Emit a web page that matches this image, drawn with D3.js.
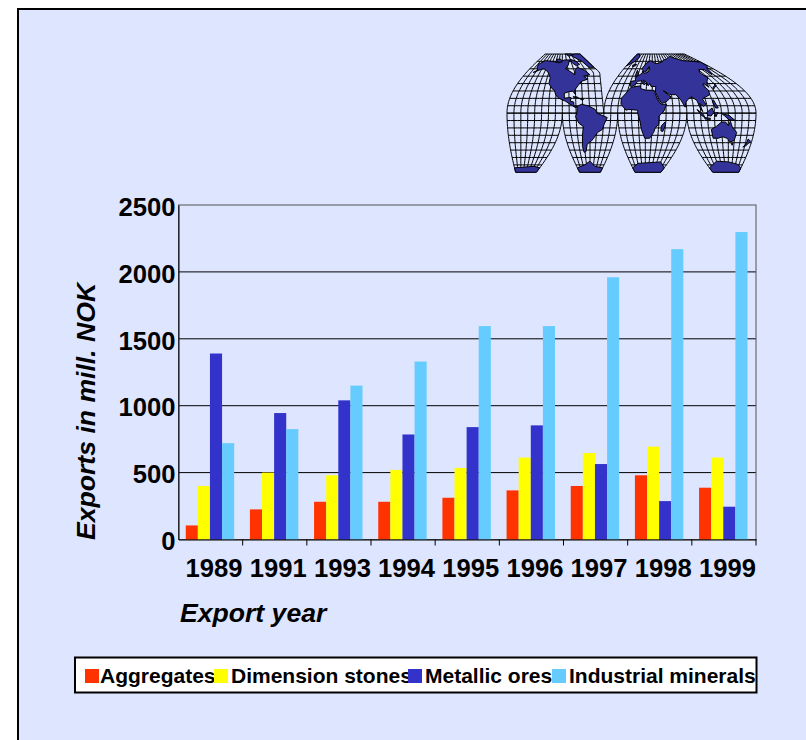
<!DOCTYPE html>
<html>
<head>
<meta charset="utf-8">
<script src="https://cdn.jsdelivr.net/npm/d3@7"></script>
<style>
  html, body { margin: 0; padding: 0; background: #fff; overflow: hidden; }
  text { font-family: "Liberation Sans", Arial, sans-serif; font-weight: bold; fill: #000; }
</style>
</head>
<body>
<div id="chart"></div>
<script>
// chart values
var years = ["1989", "1991", "1993", "1994", "1995", "1996", "1997", "1998", "1999"];
var seriesNames = ["Aggregates", "Dimension stones", "Metallic ores", "Industrial minerals"];
var seriesColors = ["#FF3300", "#FFFF00", "#3333CC", "#66CCFF"];
var aggregates = [105, 225, 282, 282, 312, 367, 400, 480, 387];
var dimensionStones = [400, 500, 480, 520, 535, 612, 646, 694, 612];
var metallicOres = [1390, 945, 1040, 785, 840, 853, 564, 287, 245];
var industrialMinerals = [720, 825, 1150, 1330, 1595, 1595, 1960, 2170, 2298];
var yTicks = [0, 500, 1000, 1500, 2000, 2500];

// rough coastlines for the little world map, [lon, lat]
var northAmerica = [[-168,66],[-156,71],[-130,70],[-110,68],[-95,72],[-82,72],[-88,65],[-94,60],[-85,55],[-80,52],[-78,58],[-72,62],[-62,58],[-56,52],[-66,50],[-60,46],[-70,43],[-75,38],[-81,31],[-80,25],[-84,30],[-90,29],[-97,27],[-97,20],[-90,21],[-87,21],[-88,16],[-83,15],[-83,10],[-78,9],[-80,7],[-85,10],[-95,16],[-105,20],[-110,24],[-113,31],[-117,33],[-124,40],[-124,48],[-133,56],[-145,60],[-152,59],[-165,55],[-158,58],[-165,62]];
var southAmerica = [[-78,9],[-72,12],[-62,10],[-52,5],[-50,0],[-35,-6],[-39,-15],[-41,-22],[-48,-26],[-54,-34],[-58,-38],[-65,-42],[-68,-52],[-72,-53],[-74,-45],[-72,-30],[-70,-18],[-76,-14],[-81,-5],[-79,0]];
var eurasia = [[-9,37],[-9,43],[-1,44],[-4,48],[2,51],[8,54],[8,57],[12,54],[20,55],[24,59],[22,63],[18,60],[16,56],[12,56],[5,59],[6,62],[14,68],[25,71],[40,67],[44,67],[60,69],[68,72],[80,73],[100,77],[113,74],[130,71],[160,70],[179,69],[178,64],[165,60],[162,56],[156,52],[155,59],[142,59],[135,54],[140,48],[130,42],[127,39],[126,35],[122,40],[118,38],[122,31],[120,25],[110,21],[106,19],[109,12],[105,9],[100,13],[103,2],[99,9],[97,17],[91,22],[87,21],[80,15],[78,8],[73,18],[67,25],[57,25],[51,29],[48,30],[56,24],[59,22],[52,16],[44,13],[39,21],[35,28],[36,36],[28,36],[26,40],[23,37],[19,42],[13,45],[18,40],[16,38],[10,44],[3,43],[0,39],[-5,36]];
var africa = [[-6,35],[10,37],[11,33],[20,31],[32,31],[34,28],[38,18],[43,12],[51,12],[47,3],[40,-4],[40,-15],[35,-20],[33,-26],[27,-34],[19,-34],[14,-22],[12,-10],[9,0],[9,4],[-4,5],[-8,4],[-16,12],[-17,20],[-10,29]];
var australia = [[114,-22],[122,-18],[130,-12],[136,-12],[140,-17],[143,-11],[146,-19],[153,-26],[150,-37],[143,-39],[138,-34],[131,-32],[123,-34],[115,-34]];
var greenlandWest = [[-73,78],[-60,80],[-41,80],[-41,62],[-50,62],[-54,70],[-68,76]];
var greenlandEast = [[-39,80],[-30,80],[-20,76],[-25,70],[-39,64]];
var islands = [
  [[49,-12],[50,-16],[47,-25],[44,-24],[44,-17]],
  [[173,-35],[178,-38],[172,-44],[167,-46],[172,-41]],
  [[109,1],[117,7],[119,1],[115,-4],[110,-3]],
  [[95,5],[104,-2],[106,-6],[101,-3]],
  [[106,-6],[114,-7],[114,-8.5],[106,-8]],
  [[131,-1],[141,-3],[150,-10],[141,-9],[135,-4]],
  [[131,32],[136,35],[141,37],[141,41],[140,38],[133,35]],
  [[120,17],[122,18],[126,7],[122,7],[120,14]],
  [[-5,50],[1,51],[-2,56],[-5,58],[-5,54]],
  [[-24,65],[-14,66],[-15,64],[-22,63]],
  [[-84,22],[-75,20],[-78,22]],
  [[-74,20],[-68,19],[-72,18]],
  [[-80,73],[-68,70],[-64,66],[-72,64],[-78,68]],
  [[-120,73],[-105,73],[-102,69],[-115,69]],
  [[-90,80],[-70,80],[-65,79],[-80,77]],
  [[145,-41],[148,-41],[147,-43.5]],
  [[120,0],[125,1],[122,-5]]
];
var antarcticaCoast = [[-180,-74],[-150,-73],[-120,-72],[-100,-71],[-75,-70],[-60,-65],[-45,-72],[-20,-70],[0,-68],[30,-67],[60,-66],[80,-66],[110,-65],[140,-66],[165,-69],[180,-74]];

var svgWidth = 806;
var svgHeight = 740;
var margin = { top: 205, right: 50, bottom: 200, left: 178.5 };
var width = 756 - margin.left;
var height = 539.5 - margin.top;

var svg = d3.select("#chart")
  .append("svg")
  .attr("width", svgWidth)
  .attr("height", svgHeight)
  .style("display", "block");

// slide background, the frame runs off the right and bottom of the page
svg.append("rect")
  .attr("x", 18)
  .attr("y", 9)
  .attr("width", 830)
  .attr("height", 780)
  .attr("fill", "#DDE5FF")
  .attr("stroke", "#000")
  .attr("stroke-width", 2);

// world map -------------------------------------------------------------
var northLobes = [
  { c: -100, lo: -180, hi: -40 },
  { c: 30, lo: -40, hi: 180 }
];
var southLobes = [
  { c: -160, lo: -180, hi: -100 },
  { c: -60, lo: -100, hi: -20 },
  { c: 20, lo: -20, hi: 80 },
  { c: 140, lo: 80, hi: 180 }
];
var mapX = d3.scaleLinear().domain([-180, 180]).range([507, 756]);
var mapY = d3.scaleLinear().domain([-81, 80]).range([173, 54]);
var toRad = Math.PI / 180;
// the east side of the first lobe keeps its width up to the Greenland tail
var tailWidth = d3.scaleLinear().domain([0, 55, 80]).range([1, 0.9, 0.43]);

// interrupted, sinusoidal looking map cut off before the poles
function goode(lon, lat, lobe) {
  var squeeze = Math.cos(lat * (lat >= 0 ? 0.9 : 0.85) * toRad);
  if (lobe.c === -100 && lon > lobe.c) squeeze = tailWidth(lat);
  return [mapX(lobe.c + (lon - lobe.c) * squeeze), mapY(lat)];
}

function lobeFor(lon, lat) {
  var lobes = lat >= 0 ? northLobes : southLobes;
  return lobes.find(function(l) { return lon >= l.lo && lon <= l.hi; });
}

var mapLine = d3.line();
var mapGroup = svg.append("g").attr("fill", "none").attr("stroke", "#000");

function drawLobe(lobe, latFrom, latTo) {
  // parallels
  d3.range(latFrom, latTo + 1, 10).forEach(function(lat) {
    var pts = d3.range(lobe.lo, lobe.hi + 1, 5).map(function(lon) { return goode(lon, lat, lobe); });
    mapGroup.append("path").attr("d", mapLine(pts)).attr("stroke-width", 1);
  });
  // meridians
  d3.range(lobe.lo, lobe.hi + 1, 10).forEach(function(lon) {
    var pts = d3.range(latFrom, latTo + 1, 2).map(function(lat) { return goode(lon, lat, lobe); });
    mapGroup.append("path").attr("d", mapLine(pts)).attr("stroke-width", 1);
  });
}
northLobes.forEach(function(l) { drawLobe(l, 0, 80); });
southLobes.forEach(function(l) { drawLobe(l, -80, 0); });

var land = [northAmerica, southAmerica, eurasia, africa, australia, greenlandWest, greenlandEast].concat(islands);
land.forEach(function(coast) {
  var pts = coast.map(function(p) { return goode(p[0], p[1], lobeFor(p[0], p[1])); });
  mapGroup.append("path")
    .attr("d", mapLine(pts) + "Z")
    .attr("fill", "#333399")
    .attr("stroke-width", 1);
});
southLobes.forEach(function(l) {
  var coast = antarcticaCoast.filter(function(p) { return p[0] > l.lo && p[0] < l.hi; });
  var pts = [[l.lo, -80], [l.lo, -74]].concat(coast, [[l.hi, -74], [l.hi, -80]])
    .map(function(p) { return goode(p[0], p[1], l); });
  mapGroup.append("path")
    .attr("d", mapLine(pts) + "Z")
    .attr("fill", "#333399")
    .attr("stroke-width", 1);
});

// bar chart -------------------------------------------------------------
var chartGroup = svg.append("g")
  .attr("transform", `translate(${margin.left}, ${margin.top})`);

var x0 = d3.scaleBand().domain(years).range([0, width]);
var x1 = d3.scaleBand()
  .domain(seriesNames)
  .range([0, x0.bandwidth()])
  .paddingInner(0)
  .paddingOuter(0.65)
  .align(0.46);
var y = d3.scaleLinear().domain([0, 2500]).range([height, 0]);

// gridlines and plot border sit behind the bars
chartGroup.append("g")
  .selectAll("line")
  .data(yTicks.slice(1, -1))
  .enter()
  .append("line")
  .attr("x1", 0)
  .attr("x2", width)
  .attr("y1", d => y(d))
  .attr("y2", d => y(d))
  .attr("stroke", "#000");

chartGroup.append("rect")
  .attr("width", width)
  .attr("height", height)
  .attr("fill", "none")
  .attr("stroke", "#555");

var seriesValues = [aggregates, dimensionStones, metallicOres, industrialMinerals];
seriesNames.forEach(function(name, s) {
  chartGroup.append("g")
    .selectAll("rect")
    .data(seriesValues[s])
    .enter()
    .append("rect")
    .attr("x", (d, i) => x0(years[i]) + x1(name))
    .attr("y", d => y(d))
    .attr("width", x1.bandwidth())
    .attr("height", d => y(0) - y(d))
    .attr("fill", seriesColors[s]);
});

// y axis
var leftAxis = d3.axisLeft(y).tickValues(yTicks).tickFormat(d3.format("d")).tickSize(0).tickPadding(3);
var yAxisGroup = chartGroup.append("g").call(leftAxis);
yAxisGroup.select(".domain").attr("stroke", "#000");
yAxisGroup.selectAll("text")
  .style("font-size", "25.6px")
  .style("font-family", '"Liberation Sans", Arial, sans-serif')
  .attr("dy", "0.4em");

// x axis, the ticks mark the edges of each year band
var bottomAxis = d3.axisBottom(x0).tickSize(0).tickPadding(19);
var xAxisGroup = chartGroup.append("g")
  .attr("transform", `translate(0, ${height})`)
  .call(bottomAxis);
xAxisGroup.select(".domain").attr("stroke", "#000");
xAxisGroup.selectAll("text")
  .style("font-size", "25.6px")
  .style("font-family", '"Liberation Sans", Arial, sans-serif')
  .attr("dx", 3.5);
xAxisGroup.selectAll(".edge")
  .data(years)
  .enter()
  .append("line")
  .attr("class", "edge")
  .attr("x1", d => x0(d) + x0.step())
  .attr("x2", d => x0(d) + x0.step())
  .attr("y1", 0)
  .attr("y2", 6)
  .attr("stroke", "#000");

// axis titles
svg.append("text")
  .attr("transform", "translate(95, 540) rotate(-90)")
  .style("font-size", "26.6px")
  .style("font-style", "italic")
  .text("Exports in mill. NOK");

svg.append("text")
  .attr("x", 180)
  .attr("y", 622)
  .style("font-size", "26.6px")
  .style("font-style", "italic")
  .text("Export year");

// legend
var legendGroup = svg.append("g");
legendGroup.append("rect")
  .attr("x", 75)
  .attr("y", 657.5)
  .attr("width", 681.5)
  .attr("height", 35)
  .attr("fill", "#fff")
  .attr("stroke", "#000")
  .attr("stroke-width", 2);

var legendX = d3.scaleOrdinal().domain(seriesNames).range([85, 214, 408, 552]);
legendGroup.selectAll("text")
  .data(seriesNames)
  .enter()
  .append("text")
  .attr("x", d => legendX(d) + (d === "Aggregates" ? 15 : 17))
  .attr("y", 683)
  .style("font-size", "21px")
  .text(d => d);
legendGroup.selectAll(".swatch")
  .data(seriesNames)
  .enter()
  .append("rect")
  .attr("class", "swatch")
  .attr("x", d => legendX(d))
  .attr("y", 669)
  .attr("width", 14)
  .attr("height", 14)
  .attr("fill", (d, i) => seriesColors[i]);
</script>
</body>
</html>
